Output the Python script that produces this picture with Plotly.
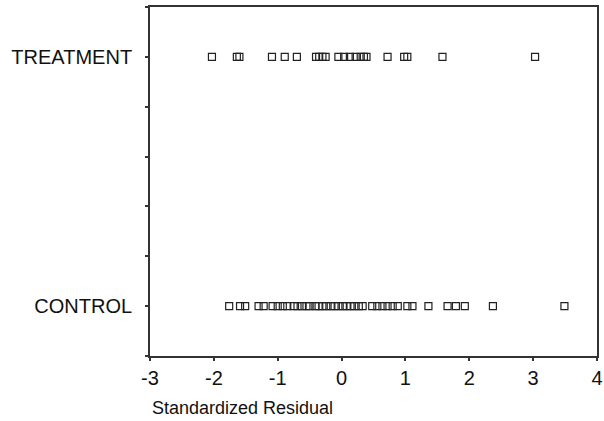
import plotly.graph_objects as go

treatment_resid = [-2.03, -1.64, -1.60, -1.09, -0.89, -0.70, -0.40, -0.35, -0.30, -0.25,
                   -0.05, 0.04, 0.13, 0.22, 0.30, 0.35, 0.39, 0.72, 0.98, 1.03, 1.58, 3.03]
control_resid = [-1.76, -1.59, -1.51, -1.30, -1.22, -1.08, -1.00, -0.92, -0.85,
                 -0.75, -0.69, -0.62, -0.55, -0.50, -0.41,
                 -0.36, -0.30, -0.24, -0.17, -0.11, -0.05, 0.02, 0.08, 0.14, 0.20, 0.27, 0.33,
                 0.48, 0.56, 0.64, 0.72, 0.80, 0.88, 1.03, 1.11, 1.36, 1.66, 1.79, 1.93,
                 2.37, 3.49]
group_positions = {"CONTROL": 0, "TREATMENT": 5}
y_ticks = [-1, 0, 1, 2, 3, 4, 5, 6]
y_tick_text = ["", "CONTROL", "", "", "", "", "TREATMENT", ""]
x_ticks = [-3, -2, -1, 0, 1, 2, 3, 4]
x_tick_text = ["-3", "-2", "-1", "0", "1", "2", "3", "4"]

font = "Liberation Sans, Arial, sans-serif"
marker = dict(symbol="square-open", size=7, color="#222222", line=dict(width=1.2, color="#222222"))

fig = go.Figure()
fig.add_trace(go.Scatter(x=treatment_resid, y=[group_positions["TREATMENT"]] * len(treatment_resid),
                         mode="markers", marker=marker, showlegend=False, cliponaxis=False))
fig.add_trace(go.Scatter(x=control_resid, y=[group_positions["CONTROL"]] * len(control_resid),
                         mode="markers", marker=marker, showlegend=False, cliponaxis=False))

fig.update_layout(
    width=604, height=421,
    margin=dict(l=150, r=7, t=7, b=65),
    paper_bgcolor="white", plot_bgcolor="white",
    font=dict(family=font, size=20, color="#111111"),
    xaxis=dict(range=[-3, 4], tickvals=x_ticks, ticktext=x_tick_text, showgrid=False, zeroline=False,
               showline=True, mirror=True, linecolor="#333333", linewidth=1.5,
               ticks="outside", ticklen=3, tickwidth=2, tickcolor="#333333",
               tickfont=dict(size=20), automargin=False, fixedrange=True),
    yaxis=dict(range=[-1, 6], tickvals=y_ticks, ticktext=y_tick_text, showgrid=False, zeroline=False,
               showline=True, mirror=True, linecolor="#333333", linewidth=1.8,
               ticks="outside", ticklen=3, tickwidth=2, tickcolor="#333333",
               ticklabelstandoff=9,
               tickfont=dict(size=20), automargin=False, fixedrange=True),
    annotations=[dict(text="Standardized Residual", xref="paper", yref="paper",
                      x=0, y=0, yshift=-40, xanchor="left", yanchor="top",
                      showarrow=False, font=dict(size=18))],
)

fig.write_html(
    "out.html",
    config={"displayModeBar": False},
    post_script="document.body.style.margin='0';document.body.style.overflow='hidden';",
)
